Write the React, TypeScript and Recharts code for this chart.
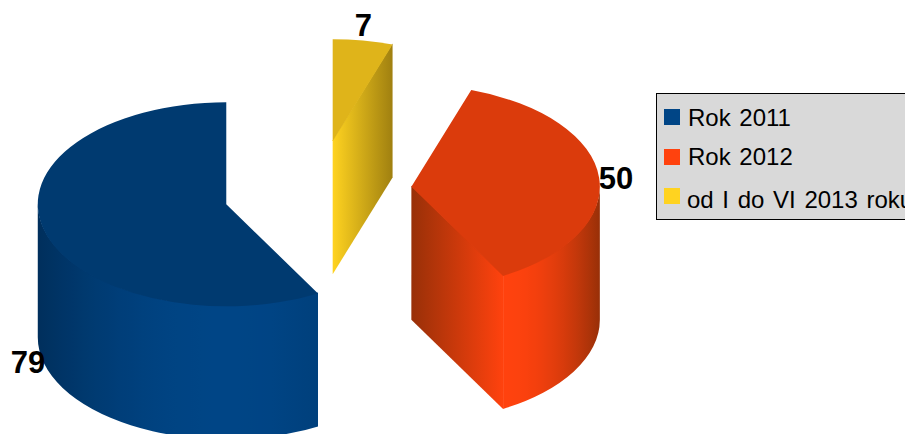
import React from "react";
import { PieChart, Pie, Legend } from "recharts";

const categories = ["Rok 2011", "Rok 2012", "od I do VI 2013 roku"];
const values = [79, 50, 7];
const brightColors = ["#004586", "#ff420e", "#ffd320"];
const topColors = ["#003a70", "#db3b0c", "#dfb41a"];
const darkColors = ["#002f5c", "#983008", "#a08010"];
const legendTextNudge = [0, -1, 3];

const rows = categories.map((name, i) => ({ name, value: values[i], fill: brightColors[i] }));

const W = 905;
const H = 434;
const RX = 188.5;
const RY = 102;
const DEPTH = 133;
const EXPLODE = 0.5;
const FONT = "'Liberation Sans', Arial, sans-serif";

const hex = (c: string) => [1, 3, 5].map((i) => parseInt(c.slice(i, i + 2), 16));
const mix = (a: string, b: string, t: number) => {
  const A = hex(a);
  const B = hex(b);
  return `rgb(${A.map((v, i) => Math.round(v + (B[i] - v) * t)).join(",")})`;
};

function Slice3D(props: any) {
  const { cx, cy, outerRadius, startAngle, endAngle, value, name } = props;
  const i = categories.indexOf(name);
  const scaleY = RY / RX;
  const rx = outerRadius;
  const ry = outerRadius * scaleY;
  let t1 = 90 - endAngle;
  const span = endAngle - startAngle;
  while (t1 < 0) t1 += 360;
  const t2 = t1 + span;
  const mid = (t1 + t2) / 2;
  const rad = (d: number) => (d * Math.PI) / 180;
  const ox = cx + EXPLODE * rx * Math.sin(rad(mid));
  const oy = cy - EXPLODE * ry * Math.cos(rad(mid));
  const pt = (d: number): [number, number] => [ox + rx * Math.sin(rad(d)), oy - ry * Math.cos(rad(d))];
  const [x1, y1] = pt(t1);
  const [x2, y2] = pt(t2);
  const large = span > 180 ? 1 : 0;
  const top = `M${ox},${oy} L${x1},${y1} A${rx},${ry} 0 ${large} 1 ${x2},${y2} Z`;

  const bright = brightColors[i];
  const dark = darkColors[i];

  // outer wall: the part of the slice on the front half of the ellipse
  const w1 = Math.max(t1, 90);
  const w2 = Math.min(t2, 270);
  let wall: React.ReactNode = null;
  if (w2 > w1) {
    const [a, b] = pt(w1);
    const [c, d] = pt(w2);
    // the upper edge is raised one pixel so that the top face covers the seam
    const path = `M${a},${b - 1} A${rx},${ry} 0 0 1 ${c},${d - 1} L${c},${d + DEPTH} A${rx},${ry} 0 0 0 ${a},${b + DEPTH} Z`;
    const minX = Math.min(a, c);
    const maxX = Math.max(a, c);
    const lightX = Math.max(minX, Math.min(maxX, ox));
    const reach = Math.max(lightX - minX, maxX - lightX);
    const stops = Array.from({ length: 25 }, (_, k) => {
      const f = k / 24;
      const x = minX + (maxX - minX) * f;
      const n = Math.abs(x - lightX) / reach;
      return <stop key={k} offset={f} stopColor={mix(bright, dark, Math.pow(n, 2))} />;
    });
    wall = (
      <g>
        <defs>
          <linearGradient id={`wall${i}`} gradientUnits="userSpaceOnUse" x1={minX} y1={0} x2={maxX} y2={0}>
            {stops}
          </linearGradient>
        </defs>
        <path d={path} fill={`url(#wall${i})`} />
      </g>
    );
  }

  // cut face: whichever radial edge faces the viewer
  const cuts: React.ReactNode[] = [];
  [t1, t2].forEach((t, k) => {
    const s = Math.sin(rad(t));
    const visible = k === 1 ? s > 1e-6 : s < -1e-6;
    if (!visible) return;
    const [px, py] = pt(t);
    const path = `M${ox},${oy - 1} L${px},${py - 1} L${px},${py + DEPTH} L${ox},${oy + DEPTH} Z`;
    const lowX = py > oy ? px : ox;
    const highX = py > oy ? ox : px;
    cuts.push(
      <g key={k}>
        <defs>
          <linearGradient id={`cut${i}${k}`} gradientUnits="userSpaceOnUse" x1={lowX} y1={0} x2={highX} y2={0}>
            <stop offset={0} stopColor={bright} />
            <stop offset={1} stopColor={dark} />
          </linearGradient>
        </defs>
        <path d={path} fill={`url(#cut${i}${k})`} />
      </g>
    );
  });

  // value label
  const sn = Math.sin(rad(mid));
  const cs = Math.cos(rad(mid));
  const [lx0, ly0] = pt(mid);
  const lx = lx0 + sn * Math.abs(sn) * 17;
  const ly = ly0 - cs * 18 + 2.5 + (cs < 0 ? DEPTH - 8 : 0);

  return (
    <g>
      {cuts}
      {wall}
      <path d={top} fill={topColors[i]} />
      <text
        x={lx}
        y={ly}
        dy="0.36em"
        textAnchor="middle"
        fontFamily={FONT}
        fontWeight="bold"
        fontSize={31}
        fill="#000"
      >
        {value}
      </text>
    </g>
  );
}

function LegendBox() {
  return (
    <div
      style={{
        width: 300,
        height: 127,
        boxSizing: "border-box",
        background: "#d9d9d9",
        border: "1px solid #000",
        position: "relative",
        fontFamily: FONT,
        fontSize: 24,
        lineHeight: "28px",
        wordSpacing: 2,
        color: "#000",
        whiteSpace: "nowrap",
      }}
    >
      {categories.map((name, i) => (
        <div key={name} style={{ position: "absolute", left: 0, top: 10 + i * 39.5, height: 28 }}>
          <span
            style={{
              position: "absolute",
              left: 7,
              top: 5,
              width: 16,
              height: 16,
              background: brightColors[i],
            }}
          />
          <span style={{ position: "absolute", left: i === 2 ? 30 : 31, top: legendTextNudge[i] }}>{name}</span>
        </div>
      ))}
    </div>
  );
}

export default function App() {
  return (
    <div style={{ position: "fixed", left: 0, top: 0, width: W, height: H, overflow: "hidden", background: "#fff" }}>
      <PieChart width={W} height={H} margin={{ top: 0, right: 0, bottom: 0, left: 0 }}>
        <Pie
          data={rows}
          dataKey="value"
          nameKey="name"
          cx={317.5}
          cy={191.5}
          innerRadius={0}
          outerRadius={RX}
          startAngle={90}
          endAngle={450}
          stroke="none"
          isAnimationActive={false}
          shape={Slice3D}
        />
        <Legend
          content={() => <LegendBox />}
          wrapperStyle={{ position: "absolute", left: 656, top: 93, width: 300, bottom: "auto", right: "auto" }}
        />
      </PieChart>
    </div>
  );
}
